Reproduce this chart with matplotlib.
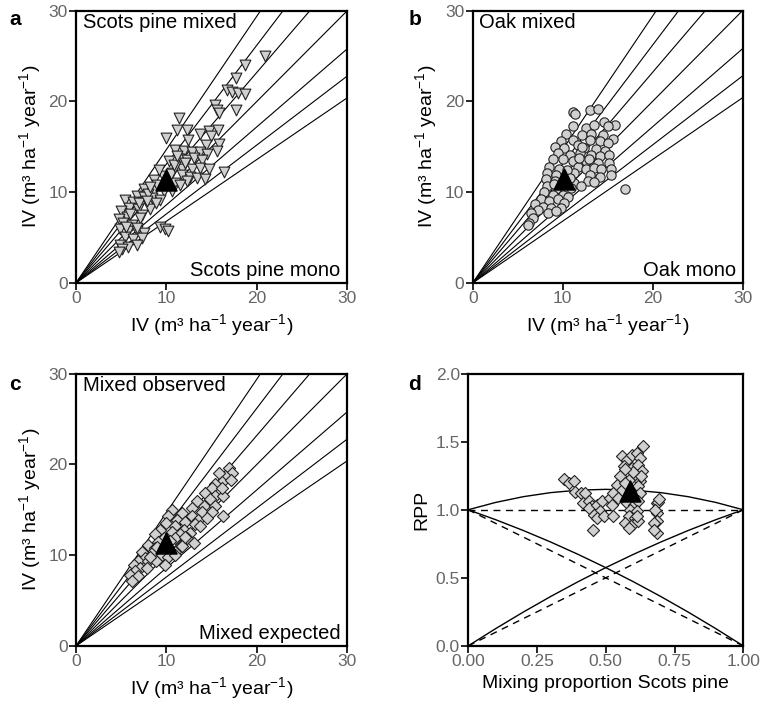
import matplotlib
matplotlib.use('Agg')
import matplotlib.pyplot as plt

plt.rcParams['font.family'] = ['Liberation Sans', 'DejaVu Sans']
plt.rcParams['mathtext.default'] = 'regular'

# reference ray slopes (panels a-c)
ray_slopes = [1.47, 1.31, 1.16, 1.0, 0.86, 0.76, 0.68]

# a: Scots pine, mixed vs mono
pine_x = [20.9, 18.7, 17.7, 16.7, 17.2, 17.9, 18.7, 15.4, 15.6, 15.8, 17.7, 11.4, 11.2, 12.3,
          10.0, 12.4, 13.7, 14.7, 15.7, 14.9, 14.4, 15.8, 15.6, 10.9, 11.9, 12.8, 13.7, 14.5,
          10.3, 11.4, 12.3, 13.0, 13.9, 11.7, 12.8, 13.7, 14.7, 16.4, 10.6, 11.7, 12.6, 13.4,
          14.3, 8.6, 10.9, 12.3, 7.5, 8.6, 9.7, 10.6, 11.5, 6.7, 7.5, 8.4, 9.3, 5.4, 6.3, 5.9,
          6.9, 8.2, 7.3, 5.0, 5.6, 4.7, 5.2, 6.2, 7.1, 4.9, 5.8, 6.7, 7.5, 5.4, 6.3, 7.3, 4.9,
          5.8, 6.7, 5.1, 4.7, 9.3, 9.8, 10.2, 9.0, 9.6, 10.5, 8.0, 7.0, 6.0, 5.5, 6.8, 8.8,
          11.0, 12.0, 9.2, 8.2, 7.8, 10.8, 11.2]
pine_y = [25.0, 24.0, 22.6, 21.2, 21.0, 20.9, 20.8, 19.6, 19.0, 18.7, 19.0, 18.2, 16.9, 16.9,
          16.0, 15.8, 16.4, 16.7, 16.9, 16.2, 15.2, 15.3, 14.5, 14.6, 14.5, 14.4, 14.4, 14.2,
          13.4, 13.7, 13.5, 13.8, 13.5, 12.6, 12.6, 12.7, 12.5, 12.2, 12.1, 11.9, 11.7, 11.6,
          11.5, 11.3, 11.0, 11.2, 10.4, 10.1, 10.1, 10.1, 10.8, 9.6, 9.5, 9.4, 9.1, 9.1, 8.9,
          8.3, 8.1, 8.1, 7.5, 7.9, 7.3, 7.0, 6.6, 6.4, 7.2, 5.9, 5.7, 5.7, 5.5, 5.1, 4.8, 5.0,
          4.2, 4.0, 4.2, 3.7, 3.4, 6.2, 5.9, 5.7, 10.8, 11.8, 12.0, 9.8, 8.8, 7.6, 6.2, 6.0,
          8.8, 12.8, 13.2, 12.4, 10.6, 9.0, 13.0, 14.0]

# b: oak, mixed vs mono
oak_x = [11.1, 11.4, 13.0, 13.9, 14.6, 15.8, 15.0, 11.2, 12.6, 13.5, 10.4, 12.1, 13.2, 14.5,
         15.6, 9.8, 11.1, 13.0, 14.1, 15.0, 9.1, 10.2, 11.7, 12.4, 13.7, 14.7, 9.5, 10.8, 11.9,
         13.2, 14.1, 15.2, 8.9, 10.0, 11.1, 12.6, 13.9, 15.2, 8.5, 9.6, 11.7, 12.6, 13.5, 14.3,
         15.4, 8.3, 9.3, 11.3, 13.0, 14.1, 15.4, 8.2, 9.1, 11.3, 12.8, 13.5, 8.3, 9.3, 10.9,
         12.0, 16.9, 7.9, 8.9, 10.0, 10.6, 7.6, 8.5, 9.5, 10.2, 6.9, 7.8, 8.7, 9.8, 7.3, 8.4,
         9.3, 6.5, 6.7, 6.3, 6.1, 10.5, 11.8, 12.2, 10.8, 9.0, 12.9]
oak_y = [18.8, 18.6, 19.0, 19.2, 17.7, 17.4, 17.3, 17.3, 17.1, 17.4, 16.4, 16.3, 16.4, 16.3,
         15.9, 15.6, 15.8, 15.8, 15.6, 15.4, 15.0, 14.9, 15.2, 14.9, 14.7, 14.5, 14.3, 14.1, 14.3,
         14.1, 14.0, 14.1, 13.6, 13.6, 13.4, 13.4, 13.2, 13.2, 12.8, 12.6, 12.8, 12.6, 12.7, 12.5,
         12.5, 12.1, 11.9, 12.1, 11.9, 11.7, 11.9, 11.4, 11.2, 11.0, 11.2, 11.1, 10.7, 10.3, 10.5,
         10.7, 10.3, 10.0, 9.7, 9.7, 9.5, 9.2, 9.0, 9.2, 8.8, 8.7, 8.4, 8.2, 8.2, 8.0, 7.7,
         7.9, 7.7, 7.2, 6.6, 6.4, 12.4, 13.8, 15.0, 11.6, 10.9, 13.6]

# c: mixed observed vs expected
mix_x = [16.9, 17.2, 16.5, 15.8, 16.1, 17.1, 15.4, 15.0, 14.3, 15.4, 16.3, 14.8, 14.1, 15.4,
         13.4, 12.8, 13.9, 15.0, 16.3, 10.6, 11.7, 12.8, 13.5, 14.5, 10.2, 11.2, 12.1, 13.2,
         10.0, 10.9, 11.9, 12.6, 13.7, 9.3, 10.6, 11.5, 12.3, 11.0, 8.7, 9.7, 9.1, 11.7, 11.0,
         13.0, 8.0, 8.7, 8.4, 9.5, 10.2, 10.9, 7.3, 7.6, 6.9, 8.0, 8.9, 9.8, 6.4, 7.1, 7.8, 6.5,
         6.0, 6.9, 6.2, 16.1, 9.0, 10.4, 8.2, 12.0]
mix_y = [19.6, 19.1, 18.7, 19.1, 18.1, 18.3, 17.8, 17.4, 16.9, 16.5, 16.5, 16.2, 15.4, 15.4,
         16.0, 15.2, 14.7, 14.8, 14.3, 15.0, 14.6, 14.3, 13.9, 14.1, 14.3, 13.9, 13.7, 13.4,
         13.5, 13.2, 12.8, 12.4, 13.2, 12.8, 12.6, 12.3, 11.9, 11.9, 12.3, 11.9, 11.5, 11.0, 10.4,
         11.3, 11.1, 10.8, 10.2, 10.0, 9.8, 10.0, 10.4, 9.7, 9.3, 9.3, 9.3, 8.9, 8.9, 8.6, 8.6, 8.2,
         7.8, 7.7, 7.1, 17.4, 10.9, 11.6, 9.8, 12.0]

# d: RPP vs mixing proportion
rpp_m = [0.349, 0.368, 0.385, 0.39, 0.41, 0.425, 0.419, 0.438, 0.45, 0.438, 0.468, 0.486, 0.48,
         0.456, 0.468, 0.492, 0.453, 0.516, 0.522, 0.528, 0.559, 0.577, 0.595, 0.613, 0.637,
         0.625, 0.565, 0.595, 0.619, 0.631, 0.553, 0.583, 0.613, 0.625, 0.541, 0.559, 0.571,
         0.619, 0.528, 0.546, 0.613, 0.625, 0.577, 0.601, 0.619, 0.589, 0.613, 0.583, 0.607,
         0.571, 0.595, 0.619, 0.583, 0.613, 0.687, 0.687, 0.687, 0.687, 0.69, 0.68, 0.692,
         0.674, 0.674, 0.63, 0.6, 0.57]
rpp_y = [1.226, 1.197, 1.209, 1.13, 1.12, 1.12, 1.049, 1.061, 1.025, 1.012, 1.037, 1.061, 0.988,
         0.963, 0.939, 0.951, 0.853, 1.086, 1.037, 0.951, 1.392, 1.368, 1.404, 1.417, 1.466,
         1.38, 1.319, 1.306, 1.331, 1.282, 1.245, 1.221, 1.245, 1.209, 1.184, 1.147, 1.196,
         1.172, 1.123, 1.086, 1.098, 1.123, 1.049, 1.037, 1.061, 1.0, 0.988, 0.951, 0.939,
         0.902, 0.89, 0.914, 0.865, 0.951, 1.049, 0.976, 0.914, 0.828, 1.06, 1.0, 1.08,
         0.9, 0.85, 1.25, 1.28, 1.3]

# curves
curve_m = [0.0, 0.1, 0.2, 0.3, 0.4, 0.5, 0.6, 0.7, 0.8, 0.9, 1.0]
rpp_total = [1.0, 1.054, 1.096, 1.126, 1.144, 1.15, 1.144, 1.126, 1.096, 1.054, 1.0]
rpp_pine = [0.0, 0.127, 0.248, 0.363, 0.472, 0.575, 0.672, 0.763, 0.848, 0.927, 1.0]
rpp_oak = [1.0, 0.927, 0.848, 0.763, 0.672, 0.575, 0.472, 0.363, 0.248, 0.127, 0.0]

means = {'a': (10.0, 11.3), 'b': (10.1, 11.4), 'c': (10.0, 11.3), 'd': (0.59, 1.14)}

tick_col = '#666666'
iv_label = 'IV (m³ ha$^{-1}$ year$^{-1}$)'

fig = plt.figure(figsize=(7.6, 7.09), dpi=100)
ax_a = fig.add_axes([0.100, 0.601, 0.357, 0.384])
ax_b = fig.add_axes([0.622, 0.601, 0.355, 0.384])
ax_c = fig.add_axes([0.100, 0.089, 0.357, 0.384])
ax_d = fig.add_axes([0.616, 0.089, 0.362, 0.384])


def style(ax):
    for sp in ax.spines.values():
        sp.set_linewidth(1.6)
    ax.tick_params(direction='out', length=5, width=1.2, labelsize=12.5, labelcolor=tick_col, pad=1)


def iv_panel(ax, xs, ys, marker, top_txt, bot_txt, mean, ms):
    for s in ray_slopes:
        ax.axline((0, 0), slope=s, color='k', lw=0.8, zorder=1)
    ax.scatter(xs, ys, marker=marker, s=ms, facecolor='#d0d0d0', edgecolor='#222222', lw=0.8, zorder=2)
    ax.scatter([mean[0]], [mean[1]], marker='^', s=230, color='k', zorder=3)
    ax.set_xlim(0, 30)
    ax.set_ylim(0, 30)
    ax.set_xticks([0, 10, 20, 30])
    ax.set_yticks([0, 10, 20, 30])
    ax.set_xlabel(iv_label, fontsize=14, labelpad=4)
    ax.set_ylabel(iv_label, fontsize=14, labelpad=4)
    ax.text(0.025, 0.99, top_txt, transform=ax.transAxes, ha='left', va='top', fontsize=14.5)
    ax.text(0.975, 0.012, bot_txt, transform=ax.transAxes, ha='right', va='bottom', fontsize=14.5)
    style(ax)


iv_panel(ax_a, pine_x, pine_y, 'v', 'Scots pine mixed', 'Scots pine mono', means['a'], 60)
iv_panel(ax_b, oak_x, oak_y, 'o', 'Oak mixed', 'Oak mono', means['b'], 45)
iv_panel(ax_c, mix_x, mix_y, 'D', 'Mixed observed', 'Mixed expected', means['c'], 38)

ax_d.plot(curve_m, rpp_total, color='k', lw=1.0)
ax_d.plot(curve_m, rpp_pine, color='k', lw=1.0)
ax_d.plot(curve_m, rpp_oak, color='k', lw=1.0)
ax_d.plot([0, 1], [1, 1], color='k', lw=1.0, ls=(0, (5, 4)))
ax_d.plot([0, 1], [0, 1], color='k', lw=1.0, ls=(0, (5, 4)))
ax_d.plot([0, 1], [1, 0], color='k', lw=1.0, ls=(0, (5, 4)))
ax_d.scatter(rpp_m, rpp_y, marker='D', s=38, facecolor='#d0d0d0', edgecolor='#222222', lw=0.8, zorder=2)
ax_d.scatter([means['d'][0]], [means['d'][1]], marker='^', s=230, color='k', zorder=3)
ax_d.set_xlim(0, 1)
ax_d.set_ylim(0, 2)
ax_d.set_xticks([0, 0.25, 0.5, 0.75, 1.0])
ax_d.set_xticklabels(['0.00', '0.25', '0.50', '0.75', '1.00'])
ax_d.set_yticks([0, 0.5, 1.0, 1.5, 2.0])
ax_d.set_yticklabels(['0.0', '0.5', '1.0', '1.5', '2.0'])
ax_d.set_xlabel('Mixing proportion Scots pine', fontsize=14, labelpad=4)
ax_d.set_ylabel('RPP', fontsize=14, labelpad=4)
style(ax_d)

for lab, (x, y) in zip('abcd', [(0.02, 0.972), (0.546, 0.972), (0.02, 0.458), (0.546, 0.458)]):
    fig.text(x, y, lab, fontsize=15, fontweight='bold', ha='center', va='center')

fig.savefig('out.png', dpi=100)
